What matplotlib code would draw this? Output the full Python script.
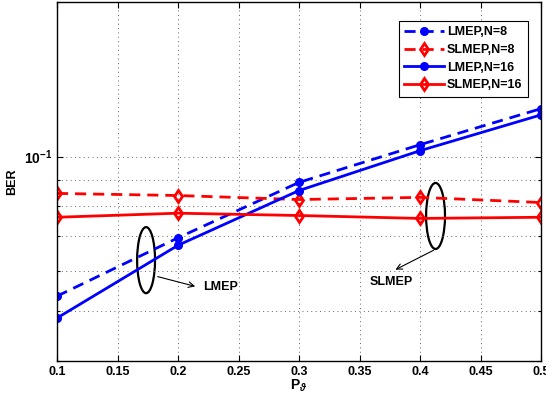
import numpy as np
import matplotlib
matplotlib.use('Agg')
import matplotlib.pyplot as plt
from matplotlib.patches import Ellipse
from matplotlib.ticker import NullFormatter, LogLocator

plt.rcParams['font.family'] = ['Liberation Sans', 'DejaVu Sans']
plt.rcParams['font.weight'] = 'bold'
plt.rcParams['mathtext.fontset'] = 'custom'
plt.rcParams['mathtext.rm'] = 'Liberation Sans:bold'
plt.rcParams['mathtext.bf'] = 'Liberation Sans:bold'
plt.rcParams['mathtext.it'] = 'Liberation Sans:bold:italic'

p_theta = [0.1, 0.2, 0.3, 0.4, 0.5]
lmep_n8 = [0.0535, 0.0695, 0.0891, 0.1055, 0.1240]
slmep_n8 = [0.0848, 0.0840, 0.0825, 0.0833, 0.0814]
lmep_n16 = [0.0485, 0.0672, 0.0859, 0.1027, 0.1206]
slmep_n16 = [0.0762, 0.0776, 0.0768, 0.0758, 0.0762]
xticks = [0.1, 0.15, 0.2, 0.25, 0.3, 0.35, 0.4, 0.45, 0.5]
xticklabels = ['0.1', '0.15', '0.2', '0.25', '0.3', '0.35', '0.4', '0.45', '0.5']

fig = plt.figure(figsize=(5.46, 4.04), dpi=100)
ax = fig.add_axes([0.1044, 0.1064, 0.8866, 0.8886])

dash = (4, 2.5)
ax.plot(p_theta, lmep_n8, color='b', ls='--', dashes=dash, lw=2, marker='o', ms=5.5, label='LMEP,N=8')
ax.plot(p_theta, slmep_n8, color='r', ls='--', dashes=dash, lw=2, marker='d', ms=6.5, mfc='none', mew=2, label='SLMEP,N=8')
ax.plot(p_theta, lmep_n16, color='b', ls='-', lw=2, marker='o', ms=5.5, label='LMEP,N=16')
ax.plot(p_theta, slmep_n16, color='r', ls='-', lw=2, marker='d', ms=6.5, mfc='none', mew=2, label='SLMEP,N=16')

ax.set_yscale('log')
ax.set_xlim(0.1, 0.5)
ax.set_ylim(0.04, 0.2)
ax.set_xticks(xticks)
ax.set_xticklabels(xticklabels, fontsize=9, fontweight='bold')
ax.set_yticks([0.1])
ax.set_yticklabels([r'$\mathbf{10^{-1}}$'], fontsize=10)
ax.yaxis.set_minor_locator(LogLocator(base=10, subs=np.arange(2, 10)))
ax.yaxis.set_minor_formatter(NullFormatter())
ax.tick_params(which='both', direction='in', top=True, right=True, width=0.8)
ax.tick_params(which='major', length=4)
ax.tick_params(which='minor', length=2.5)
grid_ls = (0, (1, 3.5))
ax.grid(True, which='major', ls=grid_ls, lw=0.7, color='0.4')
ax.grid(True, which='minor', axis='y', ls=grid_ls, lw=0.7, color='0.4')
for s in ax.spines.values():
    s.set_linewidth(1.0)

ax.set_xlabel(r'$\mathbf{P}_{\vartheta}$', fontsize=10, labelpad=0)
ax.set_ylabel('BER', fontsize=9, fontweight='bold', labelpad=4)

leg = ax.legend(loc='upper right', bbox_to_anchor=(0.973, 0.948), fontsize=9, handlelength=3.2,
                fancybox=False, edgecolor='k', framealpha=1, borderpad=0.45, labelspacing=0.45,
                handletextpad=0.2, borderaxespad=0)
leg.get_frame().set_linewidth(0.8)

# annotation ellipses
ax.add_patch(Ellipse((0.184, 0.281), 0.037, 0.184, transform=ax.transAxes, fill=False, lw=1.6, ec='k'))
ax.add_patch(Ellipse((0.782, 0.404), 0.039, 0.184, transform=ax.transAxes, fill=False, lw=1.6, ec='k'))
ax.annotate('', xy=(0.291, 0.206), xytext=(0.2025, 0.237), xycoords='axes fraction',
            arrowprops=dict(arrowstyle='->', lw=0.8, color='k'))
ax.text(0.302, 0.206, 'LMEP', transform=ax.transAxes, fontsize=9, fontweight='bold', va='center', ha='left')
ax.annotate('', xy=(0.694, 0.251), xytext=(0.783, 0.312), xycoords='axes fraction',
            arrowprops=dict(arrowstyle='->', lw=0.8, color='k'))
ax.text(0.690, 0.220, 'SLMEP', transform=ax.transAxes, fontsize=9, fontweight='bold', va='center', ha='center')

fig.savefig('out.png', dpi=100)
